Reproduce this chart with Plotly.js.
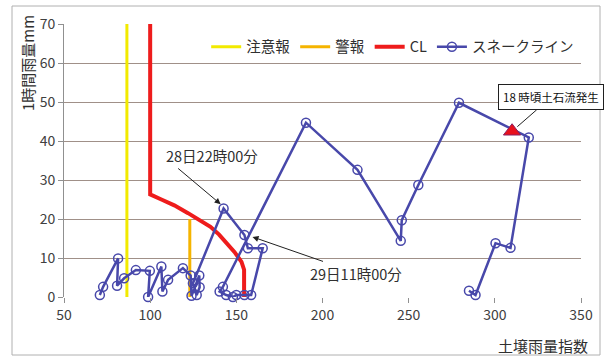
<!DOCTYPE html>
<html>
<head>
<meta charset="utf-8">
<script src="https://cdn.plot.ly/plotly-3.0.1.min.js"></script>
<style>
html,body{margin:0;padding:0;background:#fff;}
#chart{width:607px;height:362px;}
</style>
</head>
<body>
<div id="chart"></div>
<script>
// ---- data ----
const cautionX = [86.5, 86.5];
const cautionY = [0, 70];
const warningX = [123, 123];
const warningY = [0, 20];
const clX = [100, 100, 106.5, 114, 122, 130, 135, 140, 144, 149, 153, 154.5, 154.5];
const clY = [70, 26.3, 25, 23.5, 21.5, 19.5, 18, 16, 14, 11.5, 9, 7, 0];
const snakeX = [70.8, 72.7, 81.4, 80.8, 84.9, 91.7, 99.8, 98.8, 106.5, 107.1, 110.4, 119, 123.5, 124, 128.5, 128.7, 127, 124.8,
  142.6, 154.7, 156.7, 165.3, 158.6, 154.7, 150, 148, 144.1, 140.3, 142.2,
  190.4, 220.3, 245.4, 246, 255.6, 279.2, 319.7, 309.1, 300.4, 288.8, 285];
const snakeY = [0.5, 2.6, 9.9, 2.9, 4.8, 6.9, 6.7, 0, 7.8, 1.4, 4.4, 7.4, 5.5, 0.3, 5.5, 2.5, 0.5, 3.5,
  22.7, 15.9, 12.5, 12.5, 0.5, 0.5, 0.5, 0, 0.5, 1.4, 2.6,
  44.7, 32.6, 14.4, 19.7, 28.7, 49.8, 40.9, 12.6, 13.8, 0.5, 1.6];
const eventX = [310];
const eventY = [42.5];
const seriesNames = ['注意報', '警報', 'CL', 'スネークライン'];
const xTicks = [50, 100, 150, 200, 250, 300, 350];
const yTicks = [0, 10, 20, 30, 40, 50, 60, 70];

const FONT = '"Noto Sans CJK JP", "Noto Sans", sans-serif';
const BLUE = 'rgb(72,72,170)';

const traces = [
  {x: cautionX, y: cautionY, name: seriesNames[0], mode: 'lines', line: {color: '#f2ea00', width: 3}},
  {x: warningX, y: warningY, name: seriesNames[1], mode: 'lines', line: {color: '#f5b400', width: 3}},
  {x: clX, y: clY, name: seriesNames[2], mode: 'lines', line: {color: '#ee1c1c', width: 4}},
  {x: snakeX, y: snakeY, name: seriesNames[3], mode: 'lines+markers', cliponaxis: false,
   line: {color: BLUE, width: 2.5},
   marker: {symbol: 'circle-open', size: 9, color: BLUE, line: {width: 1.5, color: BLUE}}},
  {x: eventX, y: eventY, mode: 'markers', showlegend: false, cliponaxis: false,
   marker: {symbol: 'triangle-up', size: 15, color: '#e8101c', line: {width: 1, color: '#8a2060'}}}
];

const layout = {
  width: 607, height: 362,
  margin: {l: 64, r: 26, t: 24, b: 65},
  paper_bgcolor: '#fff', plot_bgcolor: '#fff',
  font: {family: FONT, size: 14, color: '#404040'},
  showlegend: true,
  legend: {orientation: 'h', x: 0.275, y: 0.975, xanchor: 'left', yanchor: 'top',
           font: {size: 14.5, color: '#303030'}, bgcolor: 'rgba(255,255,255,0)', itemwidth: 30,
           tracegroupgap: 0},
  xaxis: {range: [50, 350], tickvals: xTicks, ticktext: xTicks.map(String),
          showgrid: false, zeroline: false, showline: false,
          ticks: 'outside', ticklen: 5, tickcolor: '#909090',
          tickfont: {size: 14, color: '#404040'}},
  yaxis: {range: [0, 70], tickvals: yTicks, ticktext: yTicks.map(String),
          showgrid: true, gridcolor: '#a09088', gridwidth: 1, zeroline: false,
          showline: true, linecolor: '#909090', linewidth: 1,
          ticks: 'outside', ticklen: 5, tickcolor: '#909090',
          tickfont: {size: 14, color: '#404040'}},
  annotations: [
    {xref: 'paper', yref: 'paper', x: (27 - 64) / 517, y: (297 - 63) / 273, text: '1時間雨量mm',
     textangle: -90, showarrow: false, font: {size: 15, color: '#303030'}, xanchor: 'center', yanchor: 'middle'},
    {xref: 'paper', yref: 'paper', x: (590 - 64) / 517, y: (297 - 345) / 273, text: '土壌雨量指数',
     showarrow: false, font: {size: 15, color: '#303030'}, xanchor: 'right', yanchor: 'middle'},
    {xref: 'x', yref: 'y', x: 50 + (212 - 64) / 1.728, y: (297 - 155) / 3.9, text: '28日22時00分',
     showarrow: false, font: {size: 14.5, color: '#303030'}},
    {xref: 'x', yref: 'y', x: 140.9, y: 23.8, text: '', showarrow: true, ax: -44, ay: -37,
     arrowhead: 2, arrowsize: 1.2, arrowwidth: 1, arrowcolor: '#202020'},
    {xref: 'x', yref: 'y', x: 50 + (357 - 64) / 1.728, y: (297 - 273) / 3.9, text: '29日11時00分',
     showarrow: false, font: {size: 14.5, color: '#303030'}},
    {xref: 'x', yref: 'y', x: 159.4, y: 15.4, text: '', showarrow: true, ax: 72, ay: 25,
     arrowhead: 2, arrowsize: 1.2, arrowwidth: 1, arrowcolor: '#202020'},
    {xref: 'x', yref: 'y', x: 310, y: 42.5, text: '18 時頃土石流発生', showarrow: true,
     ax: 39, ay: -34, standoff: 7, arrowhead: 0, arrowwidth: 1, arrowcolor: '#202020',
     bordercolor: '#202020', borderwidth: 1, borderpad: 4, bgcolor: '#fff',
     font: {size: 11.5, color: '#111'}}
  ],
  shapes: [
    {type: 'rect', xref: 'paper', yref: 'paper', x0: (12 - 64) / 517, x1: (600 - 64) / 517,
     y0: (297 - 355) / 273, y1: (297 - 6) / 273, line: {color: '#b0b0b0', width: 1}, layer: 'below'}
  ]
};

Plotly.newPlot('chart', traces, layout, {displayModeBar: false, staticPlot: true});
</script>
</body>
</html>
